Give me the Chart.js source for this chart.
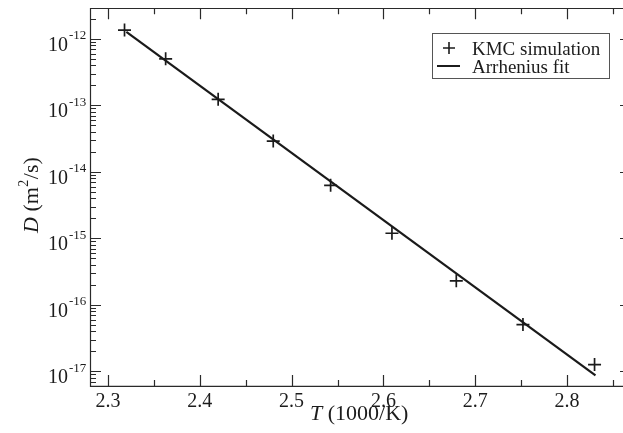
<!DOCTYPE html>
<html>
<head>
<meta charset="utf-8">
<script src="https://cdn.jsdelivr.net/npm/chart.js@4/dist/chart.umd.min.js"></script>
<style>
html,body{margin:0;padding:0;background:#fff;overflow:hidden;}
#wrap{width:623px;height:433px;position:relative;overflow:hidden;}
canvas{display:block;}
</style>
</head>
<body>
<div id="wrap"><canvas id="c" width="640" height="433"></canvas></div>
<script>
// KMC simulation points
const kmcT = [2.318, 2.3628, 2.42, 2.48, 2.5425, 2.6093, 2.6794, 2.752, 2.83];
const kmcD = [1.35e-12, 5.0e-13, 1.23e-13, 2.9e-14, 6.25e-15, 1.19e-15, 2.29e-16, 5.04e-17, 1.26e-17];
// Arrhenius fit line (end points)
const fitT = [2.32, 2.831];
const fitD = [1.27e-12, 8.7e-18];
// Tick values
const xMajorTicks = [2.3, 2.4, 2.5, 2.6, 2.7, 2.8];
const xTickLabels = ["2.3", "2.4", "2.5", "2.6", "2.7", "2.8"];
const xMinorTicks = [2.35, 2.45, 2.55, 2.65, 2.75, 2.85];
const yExponents = [-17, -16, -15, -14, -13, -12];
const seriesNames = ["KMC simulation", "Arrhenius fit"];
const xTitle = ["T", " (1000/K)"];
const yTitle = ["D", " (m", "2", "/s)"];

const XMIN = 2.2804, XMAX = 2.8697;
const YMIN = Math.pow(10, -17.21), YMAX = Math.pow(10, -11.54);

const INK = '#1c1c1c';
const SERIF = '"Liberation Serif", "DejaVu Serif", serif';

const axesPlugin = {
  id: 'graceAxes',
  afterDraw(chart) {
    const ctx = chart.ctx;
    const xs = chart.scales.x, ys = chart.scales.y;
    const a = chart.chartArea;
    ctx.save();
    ctx.strokeStyle = '#2a2a2a';
    ctx.lineWidth = 1.2;
    ctx.beginPath();
    ctx.rect(Math.round(a.left) + 0.5, Math.round(a.top) + 0.5, a.right - a.left, a.bottom - a.top);
    ctx.stroke();
    const MAJ = 11, MIN = 6;
    ctx.beginPath();
    xMajorTicks.forEach(v => {
      const px = Math.round(xs.getPixelForValue(v)) + 0.5;
      ctx.moveTo(px, a.bottom); ctx.lineTo(px, a.bottom - MAJ);
      ctx.moveTo(px, a.top); ctx.lineTo(px, a.top + MAJ);
    });
    xMinorTicks.forEach(v => {
      const px = Math.round(xs.getPixelForValue(v)) + 0.5;
      ctx.moveTo(px, a.bottom); ctx.lineTo(px, a.bottom - MIN);
      ctx.moveTo(px, a.top); ctx.lineTo(px, a.top + MIN);
    });
    for (let e = -18; e <= -12; e++) {
      for (let k = 1; k <= 9; k++) {
        const v = k * Math.pow(10, e);
        if (v < YMIN || v > YMAX) continue;
        const py = Math.round(ys.getPixelForValue(v)) + 0.5;
        const len = k === 1 ? MAJ : MIN;
        ctx.moveTo(a.left, py); ctx.lineTo(a.left + len, py);
        ctx.moveTo(a.right, py); ctx.lineTo(a.right - len, py);
      }
    }
    ctx.stroke();

    // tick labels
    ctx.fillStyle = INK;
    ctx.font = '20px ' + SERIF;
    ctx.textAlign = 'center';
    ctx.textBaseline = 'alphabetic';
    xMajorTicks.forEach((v, i) => {
      ctx.fillText(xTickLabels[i], xs.getPixelForValue(v), 407);
    });
    yExponents.forEach(e => {
      const py = ys.getPixelForValue(Math.pow(10, e));
      ctx.font = '20px ' + SERIF;
      ctx.textAlign = 'right';
      ctx.fillText('10', 68, py + 12);
      ctx.font = '13px ' + SERIF;
      ctx.textAlign = 'left';
      ctx.fillText(String(e), 69, py + 0.5);
    });

    // x title
    ctx.textAlign = 'left';
    let x = 310;
    ctx.font = 'italic 22px ' + SERIF;
    ctx.fillText(xTitle[0], x, 420);
    x += ctx.measureText(xTitle[0]).width;
    ctx.font = '22px ' + SERIF;
    ctx.fillText(xTitle[1], x, 420);

    // y title (rotated)
    ctx.save();
    ctx.translate(38, 233);
    ctx.rotate(-Math.PI / 2);
    let t = 0;
    ctx.font = 'italic 22px ' + SERIF;
    ctx.fillText(yTitle[0], t, 0);
    t += ctx.measureText(yTitle[0]).width;
    ctx.font = '22px ' + SERIF;
    ctx.fillText(yTitle[1], t, 0);
    t += ctx.measureText(yTitle[1]).width;
    ctx.font = '14px ' + SERIF;
    ctx.fillText(yTitle[2], t + 0.5, -10);
    t += ctx.measureText(yTitle[2]).width + 1;
    ctx.font = '22px ' + SERIF;
    ctx.fillText(yTitle[3], t, 0);
    ctx.restore();

    // legend
    ctx.strokeStyle = '#555';
    ctx.lineWidth = 1;
    ctx.strokeRect(432.5, 33.5, 177, 45);
    ctx.strokeStyle = INK;
    ctx.lineWidth = 1.6;
    ctx.beginPath();
    ctx.moveTo(443, 48); ctx.lineTo(455, 48);
    ctx.moveTo(449, 42); ctx.lineTo(449, 54);
    ctx.stroke();
    ctx.lineWidth = 2;
    ctx.beginPath();
    ctx.moveTo(437, 66); ctx.lineTo(460, 66);
    ctx.stroke();
    ctx.font = '19px ' + SERIF;
    ctx.fillStyle = INK;
    ctx.fillText(seriesNames[0], 472, 55);
    ctx.fillText(seriesNames[1], 472, 73);
    ctx.restore();
  }
};

new Chart(document.getElementById('c'), {
  type: 'scatter',
  data: {
    datasets: [
      {
        label: seriesNames[1],
        data: fitT.map((t, i) => ({x: t, y: fitD[i]})),
        showLine: true,
        borderColor: '#1a1a1a',
        borderWidth: 2.2,
        pointRadius: 0,
        fill: false,
        order: 2
      },
      {
        label: seriesNames[0],
        data: kmcT.map((t, i) => ({x: t, y: kmcD[i]})),
        showLine: false,
        pointStyle: 'cross',
        pointRadius: 6.5,
        borderColor: '#1a1a1a',
        borderWidth: 1.7,
        order: 1
      }
    ]
  },
  options: {
    responsive: false,
    animation: false,
    devicePixelRatio: 1,
    layout: {padding: {left: 90, top: 7, right: 9, bottom: 47}},
    plugins: {legend: {display: false}, tooltip: {enabled: false}},
    scales: {
      x: {type: 'linear', min: XMIN, max: XMAX, display: false},
      y: {type: 'logarithmic', min: YMIN, max: YMAX, display: false}
    }
  },
  plugins: [axesPlugin]
});
</script>
</body>
</html>
